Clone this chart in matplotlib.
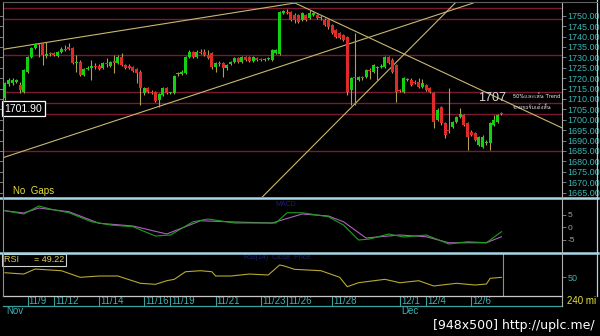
import numpy as np
import matplotlib
matplotlib.use("Agg")
import matplotlib.pyplot as plt
from matplotlib import font_manager, ft2font
from matplotlib.lines import Line2D

# 4h gold bars
opens = [1710.5, 1717.2, 1717.7, 1718.2, 1716.7, 1713.4, 1723.0, 1730.2, 1734.5, 1736.4,
         1736.4, 1730.6, 1731.6, 1732.1, 1730.6, 1732.6, 1734.0, 1735.0, 1734.5, 1727.3,
         1727.8, 1721.5, 1724.4, 1724.9, 1725.8, 1725.8, 1724.9, 1727.3, 1725.8, 1727.8,
         1727.3, 1730.2, 1726.3, 1725.8, 1725.4, 1724.4, 1723.0, 1712.9, 1715.3, 1713.4,
         1713.4, 1709.5, 1711.9, 1715.3, 1712.9, 1712.9, 1722.0, 1722.0, 1722.5, 1730.2,
         1732.6, 1730.2, 1732.6, 1732.6, 1731.1, 1732.1, 1725.4, 1727.3, 1727.3, 1724.9,
         1726.8, 1727.8, 1729.7, 1727.8, 1730.2, 1730.2, 1728.2, 1729.7, 1729.2, 1728.7,
         1729.2, 1728.7, 1732.1, 1731.6, 1751.3, 1751.8, 1751.8, 1750.3, 1750.3, 1747.9,
         1750.3, 1748.9, 1750.3, 1750.3, 1748.9, 1747.9, 1747.9, 1745.5, 1743.1, 1741.7,
         1740.7, 1739.8, 1714.3, 1720.1, 1719.1, 1720.1, 1720.6, 1723.9, 1723.0, 1724.9,
         1725.4, 1725.4, 1730.2, 1728.7, 1726.3, 1714.3, 1713.4, 1719.1, 1719.1, 1718.2,
         1718.2, 1715.8, 1716.7, 1715.3, 1712.9, 1699.9, 1706.2, 1698.5, 1695.1, 1696.5,
         1698.9, 1701.3, 1702.3, 1698.5, 1694.1, 1693.7, 1687.9, 1686.9, 1688.9, 1688.9,
         1697.5, 1698.9, 1703.3]
highs = [1718.2, 1720.1, 1720.1, 1719.6, 1718.2, 1724.4, 1730.6, 1735.0, 1736.9, 1736.9,
         1736.9, 1737.4, 1732.6, 1732.6, 1733.0, 1735.0, 1735.9, 1736.9, 1735.0, 1731.1,
         1728.7, 1724.9, 1725.8, 1728.7, 1727.3, 1726.8, 1727.8, 1729.7, 1728.2, 1731.1,
         1731.1, 1732.1, 1726.8, 1726.8, 1725.8, 1724.9, 1723.9, 1715.8, 1715.8, 1714.3,
         1713.9, 1712.9, 1715.8, 1715.8, 1713.4, 1721.5, 1723.0, 1723.9, 1730.6, 1733.5,
         1733.0, 1733.5, 1734.0, 1734.0, 1733.5, 1732.6, 1727.8, 1728.2, 1727.8, 1726.8,
         1728.2, 1730.2, 1730.2, 1730.6, 1730.6, 1730.6, 1730.6, 1730.2, 1729.7, 1729.7,
         1730.2, 1734.0, 1734.0, 1752.3, 1752.7, 1753.2, 1752.3, 1751.3, 1750.8, 1751.8,
         1750.8, 1752.7, 1751.8, 1750.8, 1750.3, 1748.9, 1748.4, 1746.0, 1743.6, 1742.2,
         1741.2, 1740.2, 1720.6, 1741.7, 1721.0, 1721.0, 1724.4, 1724.9, 1726.8, 1725.8,
         1726.8, 1730.6, 1730.6, 1729.7, 1726.8, 1714.8, 1720.6, 1720.1, 1720.1, 1719.1,
         1720.1, 1719.6, 1717.2, 1715.8, 1713.4, 1705.7, 1706.7, 1698.9, 1715.3, 1699.4,
         1701.8, 1705.7, 1702.8, 1698.9, 1695.1, 1694.1, 1692.2, 1692.7, 1690.3, 1698.9,
         1702.3, 1702.8, 1703.8]
lows = [1709.5, 1716.2, 1716.7, 1717.7, 1712.9, 1712.9, 1722.5, 1729.7, 1734.0, 1730.2,
        1726.3, 1729.7, 1730.6, 1730.6, 1730.2, 1732.1, 1733.0, 1733.5, 1726.8, 1723.0,
        1721.0, 1721.0, 1723.9, 1719.1, 1724.4, 1723.9, 1724.4, 1725.4, 1725.4, 1722.5,
        1726.8, 1725.8, 1724.4, 1724.4, 1723.0, 1717.7, 1707.1, 1711.9, 1712.9, 1712.4,
        1708.6, 1706.2, 1711.4, 1712.4, 1712.4, 1712.4, 1721.0, 1721.5, 1722.0, 1729.7,
        1729.7, 1729.7, 1731.6, 1730.6, 1729.2, 1724.4, 1723.0, 1725.8, 1720.6, 1723.9,
        1726.3, 1727.3, 1727.3, 1727.3, 1728.2, 1727.8, 1727.8, 1728.2, 1728.2, 1728.2,
        1728.7, 1728.2, 1731.6, 1731.1, 1750.8, 1750.8, 1747.5, 1746.5, 1746.5, 1747.5,
        1747.5, 1748.4, 1749.9, 1748.4, 1747.9, 1745.0, 1743.6, 1741.2, 1739.3, 1738.8,
        1737.8, 1711.9, 1707.1, 1707.1, 1718.7, 1719.1, 1720.1, 1719.6, 1722.5, 1719.1,
        1724.9, 1724.9, 1726.8, 1722.5, 1708.6, 1713.4, 1712.9, 1718.7, 1716.2, 1717.2,
        1715.3, 1715.3, 1713.9, 1712.9, 1696.1, 1699.4, 1697.5, 1691.3, 1693.7, 1696.1,
        1698.5, 1700.9, 1697.0, 1685.5, 1692.2, 1689.8, 1687.4, 1686.4, 1687.9, 1685.5,
        1697.0, 1698.5, 1702.3]
closes = [1717.7, 1719.1, 1719.1, 1719.1, 1714.3, 1723.9, 1730.2, 1734.5, 1736.4, 1735.9,
          1731.1, 1731.6, 1731.4, 1731.1, 1732.6, 1734.0, 1733.5, 1734.0, 1727.3, 1727.8,
          1721.5, 1724.4, 1724.9, 1725.8, 1725.4, 1724.4, 1727.3, 1726.8, 1727.8, 1727.5,
          1730.2, 1726.3, 1724.9, 1724.9, 1723.4, 1722.5, 1715.3, 1715.3, 1713.4, 1712.9,
          1709.0, 1712.4, 1715.3, 1712.9, 1713.2, 1721.0, 1722.5, 1723.0, 1730.2, 1732.6,
          1730.2, 1732.6, 1732.1, 1731.1, 1729.7, 1725.4, 1727.3, 1726.8, 1724.9, 1726.3,
          1727.8, 1729.7, 1727.8, 1730.2, 1728.7, 1728.2, 1730.2, 1728.7, 1728.7, 1729.2,
          1729.5, 1733.5, 1733.5, 1751.8, 1752.3, 1751.5, 1747.9, 1747.9, 1747.0, 1751.3,
          1747.9, 1751.3, 1751.3, 1748.9, 1749.4, 1745.5, 1744.6, 1741.7, 1739.8, 1739.3,
          1738.3, 1713.4, 1720.1, 1719.9, 1720.6, 1719.9, 1723.9, 1723.4, 1726.3, 1725.4,
          1725.8, 1730.2, 1727.3, 1723.0, 1713.4, 1713.9, 1720.1, 1719.6, 1716.7, 1717.7,
          1715.8, 1717.7, 1714.3, 1713.4, 1698.9, 1704.7, 1698.5, 1692.7, 1694.6, 1698.9,
          1701.3, 1702.8, 1697.5, 1691.7, 1692.7, 1690.3, 1691.7, 1691.7, 1689.4, 1698.5,
          1699.9, 1702.3, 1702.8]

# horizontal support / resistance lines
levels = [1753.8, 1748.3, 1731.0, 1713.5, 1708.0, 1702.7, 1685.2]
# trend lines: two points each (bar index, price)
trends = [((0, 1734.0), (77.1, 1756.1)),
          ((77.1, 1756.1), (148.1, 1696.1)),
          ((0, 1682.1), (124.5, 1756.1)),
          ((68.4, 1662.9), (119.7, 1756.1))]

# MACD-like panel (two lines)
fast_idx = [0, 5, 9, 12, 17, 23, 28, 34, 40, 44, 50, 54, 61, 66, 72, 75, 79, 86, 90, 94,
            97, 102, 106, 112, 118, 123, 128, 132]
fast_val = [6.5, 5.2, 8.4, 7.2, 5.7, 2.1, 0.8, 0.1, -3.6, -3.2, 2.1, 3.2, 1.6, 1.6, 1.6,
            5.7, 5.7, 4.1, 0.8, -5.2, -4.8, -2.8, -4.0, -3.2, -6.8, -5.9, -6.3, -1.9]
slow_idx = [0, 5, 9, 17, 25, 34, 43, 52, 61, 71, 79, 86, 90, 96, 105, 112, 118, 128, 132]
slow_val = [6.5, 5.6, 7.6, 6.1, 1.5, 0.4, -2.8, 2.5, 2.0, 1.6, 5.2, 4.4, 2.1, -4.4, -3.2,
            -3.9, -6.3, -6.3, -3.9]

# RSI
rsi_idx = [0, 5, 8, 15, 20, 25, 30, 36, 40, 43, 45, 48, 52, 55, 56, 60, 65, 70, 73, 74,
           77, 84, 89, 91, 94, 101, 105, 110, 114, 120, 125, 128, 129, 132]
rsi_val = [60.2, 57.1, 69, 65, 49.3, 52.4, 52.4, 35, 32.6, 41.2, 44.5, 62.6, 65, 62.6,
           52.4, 52.4, 57.1, 54.8, 78.6, 76.9, 68.3, 65, 49.3, 26.9, 36.4, 44.5, 36.4,
           41.2, 28.6, 35, 31, 33.3, 46.9, 49.22]

day_idx = [6, 13, 25, 37, 44, 56, 68, 75, 87, 105, 112, 124]
day_lbl = ['11/9', '11/12', '11/14', '11/16', '11/19', '11/21', '11/23', '11/26',
           '11/28', '12/1', '12/4', '12/6']
month_idx = [0, 105]
month_lbl = ['Nov', 'Dec']


def thai_font():
    for f in font_manager.fontManager.ttflist:
        try:
            if 0x0E01 in ft2font.FT2Font(f.fname).get_charmap():
                return f.name
        except Exception:
            pass
    return 'DejaVu Sans'


W, H = 600, 336
XL = (-0.53, 148.1)
TEAL = '#3cb4b4'
BLUE = '#a8d8e8'


def px(x, y):
    return x / W, 1 - y / H


def panel(top, bottom):
    ax = fig.add_axes([3 / W, 1 - bottom / H, 559 / W, (bottom - top) / H])
    ax.set_facecolor('black')
    ax.set_xlim(*XL)
    for s in ax.spines.values():
        s.set_visible(False)
    ax.set_xticks([])
    ax.yaxis.tick_right()
    ax.tick_params(axis='y', length=3, width=0.6, color='#909090', pad=1,
                   labelsize=6.5, labelcolor=TEAL)
    return ax


fig = plt.figure(figsize=(W / 100, H / 100), dpi=100, facecolor='black')
sans = ['Liberation Sans', 'DejaVu Sans']
plt.rcParams['font.family'] = sans

# main price panel
ax = panel(3, 197)
ax.set_ylim(1662.9, 1756.1)
ax.set_yticks(np.arange(1665, 1751, 5))
ax.set_yticklabels(['%.2f' % v for v in np.arange(1665, 1751, 5)])
ax.tick_params(axis='y', left=True)

for lv in levels:
    ax.axhline(lv, color='#7a1a30', lw=1.0, zorder=1)
for p1, p2 in trends:
    ax.axline(p1, p2, color='#c8b870', lw=0.8, zorder=2)

idx = np.arange(len(opens))
o = np.array(opens)
c = np.array(closes)
cols = np.where(c >= o, '#12d012', '#e02a2a')
ax.vlines(idx, lows, highs, color='#b0a050', lw=0.8, zorder=3)
body = np.maximum(np.abs(c - o), 0.5)
ax.bar(idx, body, bottom=np.minimum(o, c), width=0.8, color=cols, zorder=4)

ax.text(0.003, 0.455, '1701.90', transform=ax.transAxes, color='white', fontsize=7.5,
        va='center', ha='left', zorder=10,
        bbox=dict(boxstyle='square,pad=0.25', fc='black', ec='white', lw=0.9))
ax.text(0.017, 0.03, 'No  Gaps', transform=ax.transAxes, color='#e8e040', fontsize=7,
        va='center', zorder=10)
ax.text(129.5, 1710.3, '1707', color='#d8d8d8', fontsize=9, va='center', ha='center',
        zorder=10)
tf = thai_font()
ax.text(135.0, 1711.2, '50%และเส้น Trend', color='#e8e8e8', fontsize=4.0,
        family=[tf, 'DejaVu Sans'], va='center', ha='left', zorder=10)
ax.text(135.0, 1706.0, 'ขายรอรับเด้งสั้น', color='#e8e8e8', fontsize=4.0,
        family=[tf, 'DejaVu Sans'], va='center', ha='left', zorder=10)

# oscillator panel
ax2 = panel(199, 252)
ax2.set_ylim(-10, 11.2)
ax2.set_yticks([-5, 0, 5])
ax2.set_yticklabels(['-5', '0', '5'])
ax2.tick_params(axis='y', labelcolor='#a0a0a0', labelsize=6)
ax2.plot(slow_idx, slow_val, color='#b060c0', lw=0.8)
ax2.plot(fast_idx, fast_val, color='#1ea01e', lw=0.8)
ax2.text(72, 9.2, 'MACD', color='#202070', fontsize=5, va='center')

# RSI panel
ax3 = panel(254, 296)
ax3.set_ylim(4.8, 104.8)
ax3.set_yticks([50])
ax3.set_yticklabels(['50'])
ax3.plot(rsi_idx, rsi_val, color='#b8a830', lw=0.8)
ax3.axvline(132.5, color='#909090', lw=0.8)
ax3.text(63.5, 96, 'RSI(14)  Close  Price', color='#202070', fontsize=5, va='center')
ax3.text(0.002, 0.86, 'RSI      = 49.22', transform=ax3.transAxes, color='#e0d060',
         fontsize=6.5, va='center', ha='left', zorder=10,
         bbox=dict(boxstyle='square,pad=0.2', fc='black', ec='#d0d0d0', lw=0.8))

# date axis under RSI
xt = ax3.get_xaxis_transform()
for d, lab in zip(day_idx, day_lbl):
    ax3.plot([d, d], [0, -0.22], color='#3aa0a0', lw=0.8, transform=xt, clip_on=False)
    ax3.text(d + 0.3, -0.11, lab, color=TEAL, fontsize=7, va='center', ha='left',
             transform=xt, clip_on=False)
for d, lab in zip(month_idx, month_lbl):
    ax3.text(d + 0.3, -0.36, lab, color=TEAL, fontsize=7, va='center', ha='left',
             transform=xt, clip_on=False)


# panel frames
def fline(x1, y1, x2, y2, color, lw):
    a, b = px(x1, y1)
    c2, d2 = px(x2, y2)
    fig.add_artist(Line2D([a, c2], [b, d2], color=color, lw=lw))


fline(0, 198, 598, 198, BLUE, 1.8)
fline(0, 253, 598, 253, BLUE, 1.8)
fline(3, 296, 562, 296, '#c8c8c8', 0.9)
fline(3, 305.5, 562, 305.5, '#3aa0a0', 0.9)
fline(562, 2, 562, 305.5, '#b0b0b0', 0.8)
fline(3, 2, 3, 296, '#909090', 0.8)
fline(597, 0, 597, 296, BLUE, 0.9)
fline(3, 1.5, 597, 1.5, '#606060', 0.8)

fig.text(*px(567, 301.5), '240 mi', color='#e8e040', fontsize=7, va='center', ha='left')
fig.text(*px(595, 326), '[948x500] http://uplc.me/', color='white', fontsize=9,
         va='center', ha='right', family=['Liberation Sans Narrow', 'DejaVu Sans'])

fig.savefig('out.png', dpi=100, facecolor='black')
